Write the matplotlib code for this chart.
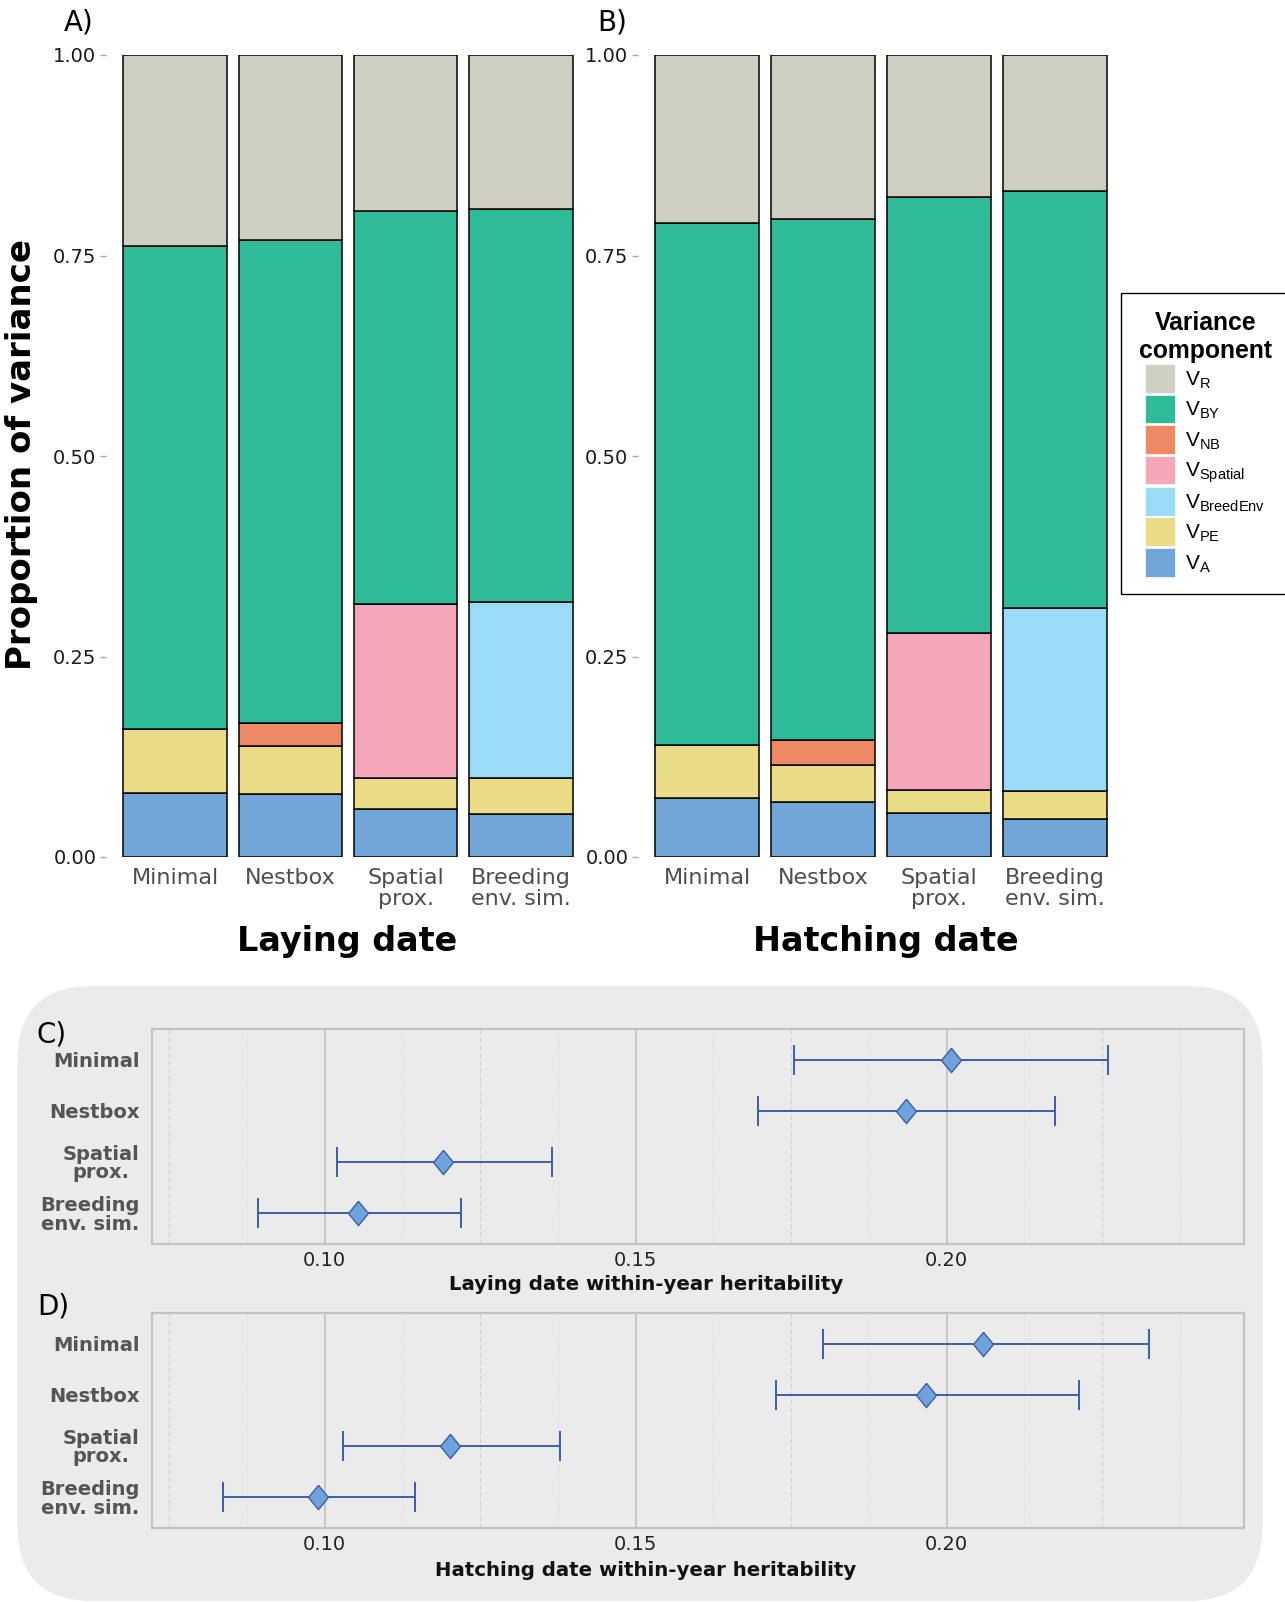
import numpy as np
import matplotlib
matplotlib.use("Agg")
import matplotlib.pyplot as plt
from matplotlib.patches import FancyBboxPatch, Patch

W, H = 1285, 1602

# ---- data -------------------------------------------------------------
models = ["Minimal", "Nestbox", "Spatial\nprox.", "Breeding\nenv. sim."]

# proportions of variance, one value per model (laying date, panel A)
lay_VA = [0.080, 0.078, 0.060, 0.054]
lay_VPE = [0.080, 0.060, 0.038, 0.045]
lay_VNB = [0.000, 0.029, 0.000, 0.000]
lay_VSpatial = [0.000, 0.000, 0.217, 0.000]
lay_VBreedEnv = [0.000, 0.000, 0.000, 0.219]
lay_VBY = [0.602, 0.602, 0.491, 0.490]
lay_VR = [0.238, 0.231, 0.194, 0.192]

# hatching date, panel B
hat_VA = [0.073, 0.069, 0.055, 0.047]
hat_VPE = [0.067, 0.046, 0.029, 0.035]
hat_VNB = [0.000, 0.031, 0.000, 0.000]
hat_VSpatial = [0.000, 0.000, 0.195, 0.000]
hat_VBreedEnv = [0.000, 0.000, 0.000, 0.229]
hat_VBY = [0.650, 0.650, 0.544, 0.520]
hat_VR = [0.210, 0.204, 0.177, 0.169]

# within-year heritability (estimate, lower, upper)
lay_h2 = [0.2007, 0.1934, 0.1190, 0.1054]
lay_lo = [0.1755, 0.1696, 0.1020, 0.0893]
lay_hi = [0.2259, 0.2174, 0.1365, 0.1220]
hat_h2 = [0.2059, 0.1967, 0.1202, 0.0990]
hat_lo = [0.1801, 0.1726, 0.1030, 0.0836]
hat_hi = [0.2325, 0.2213, 0.1378, 0.1146]

comp_labels = [r"V$_{\mathregular{A}}$", r"V$_{\mathregular{PE}}$", r"V$_{\mathregular{BreedEnv}}$",
               r"V$_{\mathregular{Spatial}}$", r"V$_{\mathregular{NB}}$", r"V$_{\mathregular{BY}}$",
               r"V$_{\mathregular{R}}$"]
comp_colors = ["#72A6D9", "#EADC87", "#9ADCF7", "#F5A7BA", "#EE8966", "#30BB98", "#CFCFC4"]

plt.rcParams['font.family'] = ['DejaVu Sans']

fig = plt.figure(figsize=(W / 100, H / 100), dpi=100)


def px_axes(l, t, r, b):
    return fig.add_axes([l / W, 1 - b / H, (r - l) / W, (b - t) / H])


# grey rounded background behind C and D
bg = FancyBboxPatch((0.175, 0.01), 12.45, 6.15,
                    boxstyle="round,pad=0,rounding_size=0.75",
                    transform=fig.dpi_scale_trans, facecolor="#EBEBEB",
                    edgecolor="none", zorder=0)
fig.add_artist(bg)


def bar_panel(ax, comps):
    x = np.arange(1, len(models) + 1)
    bottom = np.zeros(len(models))
    for vals, col in zip(comps, comp_colors):
        vals = np.array(vals)
        m = vals > 0
        ax.bar(x[m], vals[m], 0.9, bottom=bottom[m], color=col,
               edgecolor="black", linewidth=1.1)
        bottom += vals
    ax.set_xlim(0.4, 4.6)
    ax.set_ylim(0, 1)
    ax.set_xticks(x)
    ax.set_xticklabels(models, fontsize=16, color="#4D4D4D", linespacing=1.05)
    ax.set_yticks([0, 0.25, 0.5, 0.75, 1.0])
    ax.set_yticklabels(["0.00", "0.25", "0.50", "0.75", "1.00"], fontsize=14, color="#1A1A1A")
    ax.tick_params(axis="x", length=0, pad=8)
    ax.tick_params(axis="y", length=4, color="#AAAAAA", width=1, pad=3)
    for s in ax.spines.values():
        s.set_visible(False)


axA = px_axes(106, 55, 590, 857)
bar_panel(axA, [lay_VA, lay_VPE, lay_VBreedEnv, lay_VSpatial, lay_VNB, lay_VBY, lay_VR])
axB = px_axes(638, 55, 1124, 857)
bar_panel(axB, [hat_VA, hat_VPE, hat_VBreedEnv, hat_VSpatial, hat_VNB, hat_VBY, hat_VR])

fig.text(22 / W, 1 - 455 / H, "Proportion of variance", rotation=90, ha="center",
         va="center", fontsize=24.5, fontweight="bold")
fig.text(347 / W, 1 - 942 / H, "Laying date", ha="center", va="center",
         fontsize=24, fontweight="bold")
fig.text(886 / W, 1 - 942 / H, "Hatching date", ha="center", va="center",
         fontsize=24, fontweight="bold")
fig.text(64 / W, 1 - 22 / H, "A)", ha="left", va="center", fontsize=20)
fig.text(597 / W, 1 - 22 / H, "B)", ha="left", va="center", fontsize=20)

# legend
handles = [Patch(facecolor=c, edgecolor="white", linewidth=0.5) for c in comp_colors][::-1]
leg = fig.legend(handles, comp_labels[::-1], loc="upper left",
                 bbox_to_anchor=(1121 / W, 1 - 293 / H),
                 title="Variance\ncomponent",
                 prop={"family": "Liberation Sans", "size": 15},
                 title_fontproperties={"family": "Liberation Sans", "size": 17.8, "weight": "bold"},
                 frameon=True, fancybox=False, edgecolor="black", framealpha=1,
                 handlelength=1.45, handleheight=1.75, labelspacing=0.08,
                 handletextpad=0.45, borderpad=0.85, borderaxespad=0)
leg.get_frame().set_linewidth(1.0)
leg.get_title().set_multialignment("center")


def h2_panel(ax, est, lo, hi):
    y = np.arange(len(models), 0, -1)
    est = np.array(est)
    ax.set_facecolor("#EBEBEB")
    ax.set_xlim(0.07225, 0.2478)
    ax.set_ylim(0.4, 4.6)
    for v in [0.10, 0.15, 0.20]:
        ax.axvline(v, color="#C4C4C4", lw=1.3, zorder=1)
    for v in [0.075, 0.125, 0.175, 0.225]:
        ax.axvline(v, color="#D0D0D0", lw=0.8, ls=(0, (4, 3)), zorder=1)
    for v in [0.0875, 0.1125, 0.1375, 0.1625, 0.1875, 0.2125, 0.2375]:
        ax.axvline(v, color="#DCDCDC", lw=0.8, ls=(0, (1, 2)), zorder=1)
    ax.errorbar(est, y, xerr=[est - np.array(lo), np.array(hi) - est], fmt="none",
                ecolor="#3D5FA5", elinewidth=1.4, capsize=11, capthick=1.4, zorder=3)
    ax.plot(est, y, linestyle="none", marker=[(0, 1), (0.82, 0), (0, -1), (-0.82, 0), (0, 1)],
            markersize=17.5, markerfacecolor="#6FA3DC", markeredgecolor="#3D5FA5",
            markeredgewidth=1.0, zorder=4)
    ax.set_xticks([0.10, 0.15, 0.20])
    ax.set_xticklabels(["0.10", "0.15", "0.20"], fontsize=14, color="#222222")
    ax.set_yticks(y)
    ax.set_yticklabels(models, fontsize=14, fontweight="bold", color="#555555",
                       linespacing=0.95, multialignment="center")
    ax.tick_params(axis="both", length=0)
    ax.tick_params(axis="x", pad=5)
    ax.tick_params(axis="y", pad=9)
    for s in ax.spines.values():
        s.set_color("#C2C2C2")
        s.set_linewidth(1.6)


axC = px_axes(152, 1029, 1244, 1244)
h2_panel(axC, lay_h2, lay_lo, lay_hi)
axD = px_axes(152, 1313, 1244, 1528)
h2_panel(axD, hat_h2, hat_lo, hat_hi)

fig.text(646 / W, 1 - 1285 / H, "Laying date within-year heritability", ha="center",
         va="center", fontsize=14.2, fontweight="bold", color="#111111")
fig.text(646 / W, 1 - 1570 / H, "Hatching date within-year heritability", ha="center",
         va="center", fontsize=14.2, fontweight="bold", color="#111111")
fig.text(37 / W, 1 - 1034 / H, "C)", ha="left", va="center", fontsize=20)
fig.text(37 / W, 1 - 1307 / H, "D)", ha="left", va="center", fontsize=20)

fig.savefig("out.png", dpi=100)
